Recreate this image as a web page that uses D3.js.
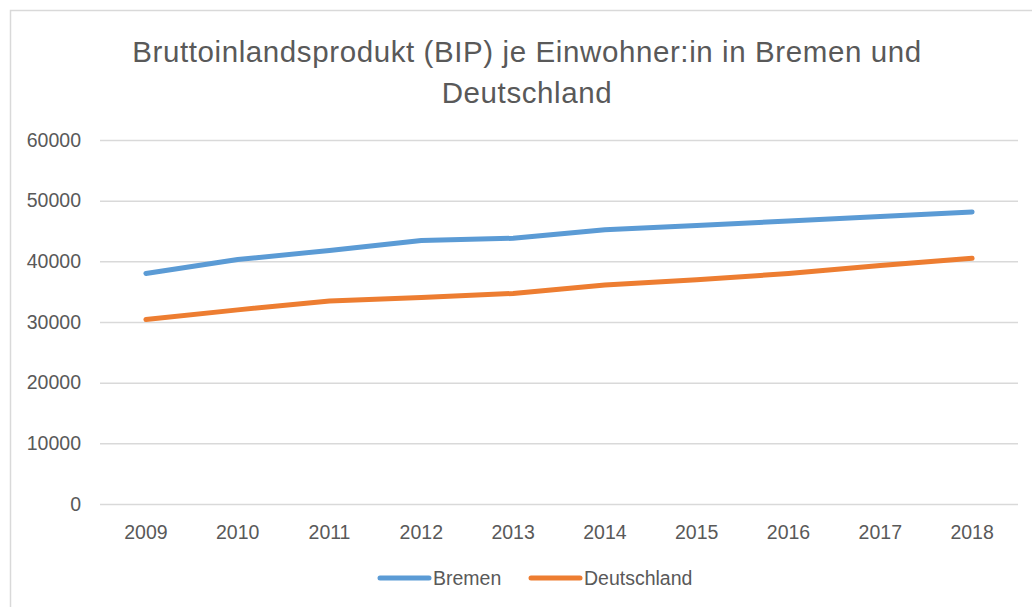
<!DOCTYPE html>
<html>
<head>
<meta charset="utf-8">
<style>
  body { margin: 0; background: #fff; }
  svg { display: block; font-family: "Liberation Sans", Arial, sans-serif; }
</style>
</head>
<body>
<script src="https://cdn.jsdelivr.net/npm/d3@7"></script>
<script>
var years = ["2009","2010","2011","2012","2013","2014","2015","2016","2017","2018"];
var bremen = [38000, 40300, 41800, 43450, 43800, 45200, 45900, 46650, 47370, 48150];
var deutschland = [30400, 32000, 33450, 34050, 34700, 36100, 36950, 38000, 39300, 40500];
var yTicks = [0, 10000, 20000, 30000, 40000, 50000, 60000];
var seriesNames = ["Bremen", "Deutschland"];
var colors = ["#5B9BD5", "#ED7D31"];

var width = 1032, height = 607;
var plot = {left: 100, right: 1018, top: 140, bottom: 504};

var svg = d3.select("body").append("svg")
    .attr("width", width)
    .attr("height", height);

// chart frame, runs off the right and bottom edge
svg.append("rect")
    .attr("x", 10.5).attr("y", 10.5)
    .attr("width", 1100).attr("height", 700)
    .attr("fill", "#fff")
    .attr("stroke", "#d9d9d9")
    .attr("stroke-width", 1.5);

var title = svg.append("text")
    .attr("text-anchor", "middle")
    .attr("fill", "#595959")
    .attr("font-size", "29.5px")
    .attr("letter-spacing", "0.6px");
title.append("tspan").attr("x", 527).attr("y", 62).text("Bruttoinlandsprodukt (BIP) je Einwohner:in in Bremen und");
title.append("tspan").attr("x", 527).attr("y", 103).text("Deutschland");

var x = d3.scaleBand().domain(years).range([plot.left, plot.right]);
var y = d3.scaleLinear().domain([0, 60000]).range([plot.bottom, plot.top]);

// gridlines
svg.append("g")
    .attr("transform", "translate(" + plot.left + ",0)")
    .call(d3.axisLeft(y).tickValues(yTicks).tickSize(-(plot.right - plot.left)).tickFormat(""))
    .call(function(g){
        g.select(".domain").remove();
        g.selectAll("line").attr("stroke", "#d9d9d9").attr("stroke-width", 1.5);
    });

// y labels
svg.append("g")
    .attr("transform", "translate(" + 81 + ",0)")
    .call(d3.axisLeft(y).tickValues(yTicks).tickSize(0).tickPadding(0).tickFormat(d3.format("d")))
    .call(function(g){
        g.select(".domain").remove();
        g.selectAll("text").attr("fill", "#595959").attr("font-size", "19.5px")
            .attr("font-family", "Liberation Sans, Arial, sans-serif");
    });

// x labels
svg.append("g")
    .attr("transform", "translate(0," + 525 + ")")
    .call(d3.axisBottom(x).tickSize(0).tickPadding(0))
    .call(function(g){
        g.select(".domain").remove();
        g.selectAll("text").attr("fill", "#595959").attr("font-size", "19.5px")
            .attr("font-family", "Liberation Sans, Arial, sans-serif");
    });

var line = d3.line()
    .x(function(d, i){ return x(years[i]) + x.bandwidth() / 2; })
    .y(function(d){ return y(d); });

[bremen, deutschland].forEach(function(s, i){
    svg.append("path")
        .datum(s)
        .attr("fill", "none")
        .attr("stroke", colors[i])
        .attr("stroke-width", 5)
        .attr("stroke-linecap", "round")
        .attr("stroke-linejoin", "round")
        .attr("d", line);
});

// legend
var legendX = [380, 531];
var legend = svg.selectAll(".legend")
    .data(seriesNames)
    .enter()
    .append("g")
    .attr("transform", function(d, i){ return "translate(" + legendX[i] + ",578)"; });
legend.append("line")
    .attr("x1", 0).attr("x2", 49)
    .attr("stroke", function(d, i){ return colors[i]; })
    .attr("stroke-width", 5)
    .attr("stroke-linecap", "round");
legend.append("text")
    .attr("x", 53).attr("dy", "0.35em")
    .attr("fill", "#595959")
    .attr("font-size", "19.5px")
    .text(function(d){ return d; });
</script>
</body>
</html>
